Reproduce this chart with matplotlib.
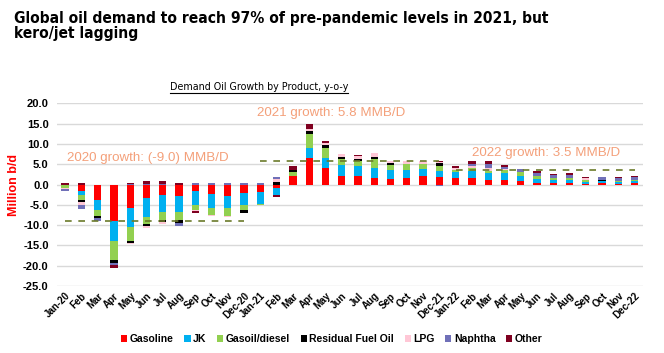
import os
import matplotlib
matplotlib.use("Agg")
import matplotlib.pyplot as plt
import matplotlib.transforms as mtransforms
from matplotlib import font_manager as fm
import numpy as np
from matplotlib.patches import Patch

months = ["Jan-20","Feb","Mar","Apr","May","Jun","Jul","Aug","Sep","Oct","Nov","Dec-20",
          "Jan-21","Feb","Mar","Apr","May","Jun","Jul","Aug","Sep","Oct","Nov","Dec-21",
          "Jan-22","Feb","Mar","Apr","May","Jun","Jul","Aug","Sep","Oct","Nov","Dec-22"]

gasoline = [0.0,-1.5,-3.8,-9.0,-5.7,-3.3,-2.5,-2.7,-1.6,-2.3,-2.7,-2.1,
            -1.9,-0.9,2.2,6.6,4.0,2.0,2.0,1.7,1.3,1.6,2.0,1.8,
            1.6,1.6,1.2,1.2,0.9,0.5,0.4,0.4,0.25,0.3,0.25,0.4]
jk = [0.0,-1.0,-2.5,-4.8,-4.8,-4.6,-4.3,-4.1,-3.5,-3.4,-3.0,-2.9,
      -2.8,-1.7,0.0,2.4,2.6,2.9,2.5,2.5,2.3,2.0,1.9,1.6,
      1.6,1.8,1.6,1.6,1.3,0.9,0.7,0.7,0.5,0.6,0.5,0.5]
gasoil = [-0.8,-1.3,-1.4,-4.9,-3.3,-1.8,-1.9,-2.0,-1.1,-1.9,-2.0,-1.2,
          -0.3,0.0,1.0,3.4,2.5,1.5,1.2,2.1,1.2,1.5,1.2,1.2,
          0.4,0.8,0.5,0.8,0.8,0.8,0.6,0.4,0.3,0.0,0.25,0.3]
resid = [0.0,-0.5,-0.6,-0.6,-0.6,-0.6,-0.6,-0.6,0.0,0.0,0.0,-0.7,
         0.0,0.7,0.3,0.8,0.6,0.5,0.6,0.6,0.4,0.0,0.0,0.6,
         0.0,0.0,0.0,0.0,0.0,0.0,0.0,0.0,0.0,0.2,0.0,0.0]
lpg = [-0.4,-0.8,0.0,0.0,-0.2,-0.4,-0.5,0.0,-0.2,-0.2,-0.2,0.0,
       0.0,0.6,0.2,0.4,0.6,0.6,0.7,0.8,0.6,0.8,0.6,0.4,
       0.4,0.3,0.8,0.3,0.2,0.0,0.0,0.2,0.5,0.0,0.0,0.0]
naphtha = [-0.4,-1.0,-0.6,-0.6,0.2,0.1,0.1,-0.7,0.3,0.3,0.3,0.3,
           0.4,0.5,0.0,0.2,0.0,0.0,0.0,0.0,0.0,-0.2,-0.2,-0.3,
           0.2,0.6,0.9,0.5,0.6,0.6,0.6,0.6,0.0,0.8,0.7,0.6]
other = [0.4,0.5,0.0,-0.8,0.1,0.7,0.9,0.5,-0.7,0.2,0.2,0.2,
         0.1,-0.4,1.0,1.1,0.4,0.0,0.25,0.0,0.0,0.0,0.0,0.25,
         0.5,0.6,0.7,0.4,0.0,0.6,0.3,0.6,0.4,0.0,0.2,0.25]

series_names = ["Gasoline","JK","Gasoil/diesel","Residual Fuel Oil","LPG","Naphtha","Other"]
series_vals = [gasoline, jk, gasoil, resid, lpg, naphtha, other]
colors = ["#ff0000","#00b0f0","#92d050","#000000","#ffc7d6","#7070b8","#7f0020"]

growth_labels = ["2020 growth: (-9.0) MMB/D","2021 growth: 5.8 MMB/D","2022 growth: 3.5 MMB/D"]
growth_vals = [-9.0, 5.8, 3.5]

title_text = "Global oil demand to reach 97% of pre-pandemic levels in 2021, but\nkero/jet lagging"
subtitle_text = "Demand Oil Growth by Product, y-o-y"

BASE = ['Liberation Sans', 'DejaVu Sans']
plt.rcParams['font.family'] = BASE


def find_condensed(bold):
    prefs = ['liberation sans narrow', 'arial narrow', 'dejavu sans condensed', 'condensed', 'narrow']
    found = []
    for f in fm.fontManager.ttflist:
        key = (f.name + ' ' + os.path.basename(f.fname)).lower()
        if not ('narrow' in key or 'condensed' in key):
            continue
        if 'mono' in key or ('serif' in key and 'sans' not in key):
            continue
        is_bold = 'bold' in os.path.basename(f.fname).lower() or str(f.weight) in ('bold', '700')
        is_ital = 'italic' in key or 'oblique' in key
        if is_bold != bold or is_ital:
            continue
        rank = next((i for i, p in enumerate(prefs) if p in key), len(prefs))
        found.append((rank, f.fname))
    if found:
        found.sort()
        return fm.FontProperties(fname=found[0][1])
    return fm.FontProperties(family=BASE, weight='bold' if bold else 'normal')


title_fp = find_condensed(True)
sub_fp = find_condensed(False)

fig = plt.figure(figsize=(6.64, 3.53), dpi=100)
ax = fig.add_axes([0.0858, 0.19, 0.968 - 0.0858, 0.7068 - 0.19])

x = np.arange(len(months))
pos_bottom = np.zeros(len(months))
neg_bottom = np.zeros(len(months))
for name, vals, c in zip(series_names, series_vals, colors):
    v = np.array(vals, dtype=float)
    pos = np.where(v > 0, v, 0)
    neg = np.where(v < 0, v, 0)
    ax.bar(x, pos, 0.45, bottom=pos_bottom, color=c, linewidth=0, zorder=3)
    ax.bar(x, neg, 0.45, bottom=neg_bottom, color=c, linewidth=0, zorder=3)
    pos_bottom += pos
    neg_bottom += neg

for k, g in enumerate(growth_vals):
    ax.plot([12 * k, 12 * k + 11], [g, g], color="#6b7a2a", lw=1.2, ls=(0, (4, 4)), zorder=4)

ann_pos = [(0.1, 6.6), (11.8, 17.7), (25.0, 7.8)]
for (tx, ty), lab in zip(ann_pos, growth_labels):
    ax.text(tx, ty, lab, color="#f4a07a", fontsize=9.6, va="center", ha="left")

ax.set_xlim(-0.5, 35.5)
ax.set_ylim(-25, 20)
yt = np.arange(-25, 20.1, 5)
ax.set_yticks(yt)
ax.set_yticklabels([f"{t:.1f}" for t in yt], fontsize=8, fontweight="bold")
ax.set_xticks(x)
ax.set_xticklabels(months, rotation=45, ha="right", rotation_mode="anchor", fontsize=7,
                   fontweight="bold")
offset = mtransforms.ScaledTranslation(2 / 72, -1 / 72, fig.dpi_scale_trans)
for lbl in ax.get_xticklabels():
    lbl.set_transform(lbl.get_transform() + offset)
ax.tick_params(axis="both", length=0)
ax.tick_params(axis="y", pad=6)
ax.grid(axis="y", color="#d9d9d9", lw=1, zorder=0)
for s in ax.spines.values():
    s.set_visible(False)

fig.text(0.021, 0.476, "Million b/d", rotation=90, color="#ff0000", fontsize=9, fontweight="bold",
         va="center", ha="center")

title = fig.text(0.021, 0.968, title_text, fontproperties=title_fp, va="top", ha="left",
                 linespacing=1.0)
title.set_fontsize(15)
fig.canvas.draw()
r = fig.canvas.get_renderer()
w = title.get_window_extent(r).width
if w > 0:
    title.set_fontsize(min(15, 15 * 535 / w))

sub = fig.text(0.39, 0.754, subtitle_text, fontproperties=sub_fp, va="center", ha="center")
sub.set_fontsize(9.5)
fig.canvas.draw()
w = sub.get_window_extent(r).width
if w > 0:
    sub.set_fontsize(min(9.5, 9.5 * 180 / w))
fig.canvas.draw()
bb = sub.get_window_extent(r)
x0, x1 = bb.x0 / fig.bbox.width, bb.x1 / fig.bbox.width
yline = (bb.y0 - 1.0) / fig.bbox.height
fig.add_artist(plt.Line2D([x0, x1], [yline, yline], color="black", lw=0.8))

handles = [Patch(facecolor=c, edgecolor="none") for c in colors]
fig.legend(handles, series_names, loc="center", bbox_to_anchor=(0.5, 0.04), ncol=7, frameon=False,
           prop={'size': 7.5, 'weight': 'bold'},
           handlelength=0.6, handleheight=0.6, handletextpad=0.25, columnspacing=1.0)

fig.savefig("out.png", dpi=100)
